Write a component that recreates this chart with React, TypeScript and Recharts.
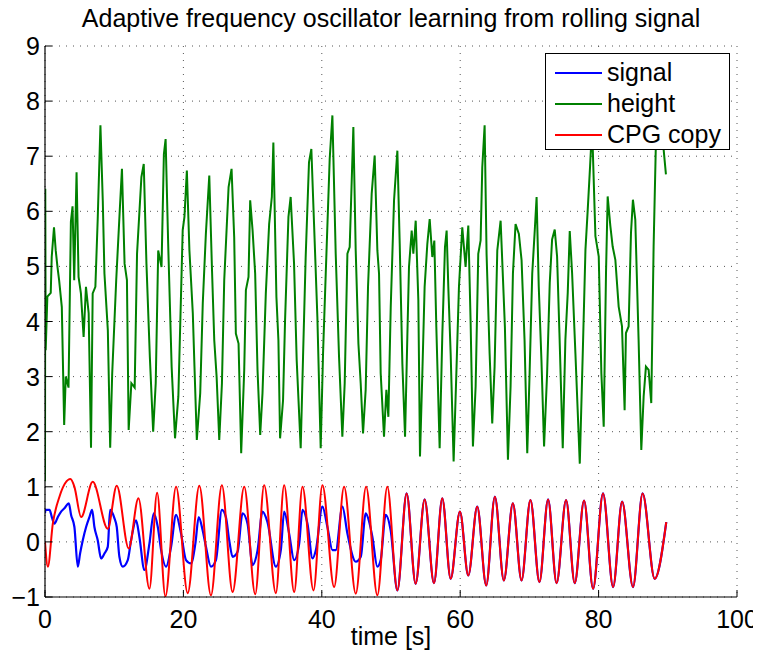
import React from "react"
import { LineChart, Line, XAxis, YAxis, CartesianGrid, Legend } from "recharts"

const FONT = '"Liberation Sans", Arial, Helvetica, sans-serif'
const BLUE = "#0000ff"
const GREEN = "#008000"
const RED = "#ff0000"

const xTicks = [0, 20, 40, 60, 80, 100]
const yTicks = [-1, 0, 1, 2, 3, 4, 5, 6, 7, 8, 9]
const legendOrder = ["signal", "height", "CPG copy"]

// [time s, value]
const signalPoints: [number, number][] = [
  [0, 0.52], [0.07, 0.58], [0.65, 0.58], [1.03, 0.43], [1.37, 0.33], [1.85, 0.45], [2.33, 0.55],
  [2.81, 0.61], [3.44, 0.7], [3.77, 0.49], [4.25, 0.27], [4.74, -0.45], [5.07, -0.21], [5.46, 0.03],
  [5.94, 0.27], [6.42, 0.45], [6.81, 0.58], [7.14, 0.27], [7.62, 0.03], [8.1, -0.3], [8.59, -0.21],
  [9.07, -0.09], [9.41, 0.58], [10.03, 0.43], [10.37, 0.27], [10.75, -0.27], [11.23, -0.45],
  [11.96, -0.33], [12.44, 0.03], [13.16, 0.39], [13.64, 0.09], [14.37, -0.51], [15.09, -0.03],
  [15.72, 0.52], [16.3, 0.27], [16.78, -0.15], [17.5, -0.45], [18.22, -0.09], [18.94, 0.49],
  [19.66, 0.15], [20.38, -0.33], [21.1, -0.39], [21.73, -0.03], [22.21, 0.45], [22.78, 0.21],
  [23.26, -0.09], [23.98, -0.45], [24.7, -0.33], [25.56, 0.58], [26.14, 0.45], [26.62, 0.03],
  [27.11, -0.27], [27.83, -0.18], [28.55, 0.52], [29.27, 0.33], [30.0, -0.42], [30.72, -0.15],
  [31.43, 0.55], [32.15, 0.36], [33.36, -0.45], [34.08, -0.15], [34.56, 0.55], [35.28, 0.15],
  [36.0, -0.33], [36.73, -0.03], [37.21, 0.58], [37.93, 0.33], [38.66, -0.3], [39.14, -0.15],
  [40.09, 0.64], [40.81, 0.27], [41.54, -0.15], [42.02, -0.15], [42.98, 0.64], [43.7, 0.15],
  [44.91, -0.36], [45.63, -0.27], [46.35, 0.52], [46.83, 0.37], [47.31, 0.09], [48.03, -0.45],
  [48.51, -0.33], [49.23, 0.49], [49.95, 0.21],
]

const heightPoints: [number, number][] = [
  [0, 1.1], [0.04, 6.41], [0.1, 3.48], [0.34, 4.45], [0.83, 4.52], [0.97, 5.17], [1.3, 5.71],
  [1.55, 5.29], [1.8, 4.99], [2.04, 4.75], [2.43, 4.26], [2.77, 2.12], [3.0, 3.0], [3.4, 2.8],
  [3.74, 5.81], [3.98, 6.09], [4.22, 4.75], [4.56, 6.71], [4.85, 4.81], [5.19, 4.51], [5.58, 3.72],
  [5.92, 4.63], [6.31, 4.15], [6.65, 1.71], [6.89, 4.51], [7.28, 4.63], [7.62, 5.87], [8.01, 7.56],
  [8.35, 6.19], [8.59, 4.87], [9.08, 3.84], [9.42, 1.71], [9.71, 3.05], [10.29, 4.75], [10.78, 5.96],
  [11.12, 6.77], [11.5, 5.05], [11.84, 4.75], [12.09, 2.03], [12.48, 2.88], [12.96, 2.8], [13.3, 5.23],
  [13.93, 6.62], [14.27, 6.86], [14.66, 5.05], [15.15, 3.36], [15.63, 2.0], [16.0, 2.88], [16.36, 5.29],
  [16.84, 4.99], [17.18, 7.04], [17.43, 7.31], [17.8, 5.41], [18.3, 3.18], [18.79, 1.88], [19.27, 2.64],
  [19.9, 5.66], [20.15, 5.9], [20.5, 6.74], [20.87, 5.29], [21.36, 4.15], [21.6, 3.18], [21.94, 1.85],
  [22.43, 2.7], [22.8, 4.33], [23.25, 5.6], [23.74, 6.65], [24.12, 4.99], [24.46, 3.66], [24.8, 3.0],
  [25.18, 1.85], [25.57, 2.88], [25.9, 4.75], [26.53, 6.44], [26.96, 6.77], [27.34, 5.53], [27.58, 3.78],
  [27.97, 3.6], [28.35, 1.61], [28.79, 3.12], [29.03, 4.57], [29.41, 4.81], [29.65, 6.2], [30.0, 5.65],
  [30.37, 4.87], [30.71, 3.12], [31.1, 1.94], [31.43, 2.7], [31.91, 4.51], [32.39, 5.77], [32.78, 6.26],
  [33.0, 7.25], [33.44, 4.45], [33.73, 3.66], [33.97, 1.88], [34.4, 2.57], [34.69, 4.02], [35.18, 5.9],
  [35.5, 6.26], [35.99, 5.05], [36.37, 3.3], [36.95, 1.7], [37.29, 3.36], [37.67, 5.17], [38.15, 6.89],
  [38.49, 7.13], [38.88, 5.77], [39.36, 4.08], [39.84, 1.7], [40.18, 3.42], [40.57, 4.87], [41.14, 6.95],
  [41.53, 7.74], [42.01, 5.23], [42.49, 3.36], [42.97, 1.91], [43.31, 2.88], [43.7, 5.23], [44.03, 5.35],
  [44.56, 7.53], [44.9, 5.29], [45.29, 3.6], [45.62, 2.88], [45.96, 1.97], [46.34, 2.76], [46.68, 4.63],
  [47.21, 6.32], [47.64, 7.01], [48.03, 5.29], [48.27, 4.87], [48.51, 3.06], [48.99, 1.91], [49.33, 2.76],
  [49.62, 2.27], [49.96, 4.26], [50.44, 6.2], [50.92, 7.1], [51.26, 5.41], [51.64, 3.24], [52.03, 1.91],
  [52.36, 3.72], [52.6, 4.99], [52.99, 5.65], [53.23, 5.23], [53.57, 5.83], [53.95, 4.39], [54.19, 1.55],
  [54.53, 3.06], [54.86, 4.63], [55.25, 5.41], [55.59, 5.86], [55.97, 5.17], [56.26, 5.47], [56.55, 3.9],
  [57.03, 1.7], [57.42, 3.78], [57.8, 5.35], [58.04, 5.65], [58.28, 4.63], [58.62, 3.42], [59.05, 1.46],
  [59.43, 3.0], [59.82, 4.63], [60.3, 5.71], [60.78, 4.99], [61.17, 5.74], [61.51, 3.96], [61.84, 1.73],
  [62.23, 2.82], [62.61, 5.23], [62.95, 5.47], [63.19, 6.8], [63.53, 7.56], [63.81, 5.23], [64.25, 3.42],
  [64.63, 2.15], [64.97, 3.18], [65.36, 5.29], [65.84, 5.83], [66.17, 4.81], [66.46, 3.9], [66.9, 1.49],
  [67.28, 2.82], [67.62, 4.87], [68.0, 5.77], [68.48, 5.59], [68.87, 5.11], [69.3, 3.66], [69.69, 1.61],
  [70.03, 3.06], [70.41, 4.87], [70.8, 5.71], [71.04, 6.26], [71.35, 4.64], [71.74, 3.3], [72.12, 1.73],
  [72.56, 3.06], [72.94, 4.7], [73.28, 5.49], [73.66, 5.67], [74.0, 5.18], [74.34, 3.79], [74.82, 1.7],
  [75.2, 3.67], [75.54, 4.52], [75.83, 5.64], [76.17, 4.88], [76.65, 3.42], [77.28, 1.42], [77.71, 3.42],
  [78.1, 5.3], [78.43, 6.03], [78.77, 6.82], [79.06, 7.54], [79.54, 5.55], [80.02, 5.18], [80.4, 3.06],
  [80.74, 2.09], [81.07, 4.88], [81.31, 6.27], [81.7, 5.73], [82.03, 5.36], [82.42, 5.12], [82.9, 4.27],
  [83.38, 3.91], [83.76, 2.39], [83.95, 3.79], [84.34, 3.91], [84.68, 5.61], [84.96, 6.21], [85.3, 5.85],
  [85.78, 3.67], [86.17, 1.67], [86.51, 2.64], [86.84, 3.18], [87.23, 3.12], [87.61, 2.52], [87.95, 5.36],
  [88.29, 7.3], [88.67, 8.3], [89.0, 8.4], [89.4, 7.12], [89.73, 6.67],
]

const cpgPoints: [number, number][] = [
  [0, 0.0], [0.41, -0.45], [1.13, 0.33], [2.09, 0.82], [3.68, 1.14], [4.25, 1.0], [5.22, 0.45],
  [6.9, 1.09], [9.07, 0.24], [10.37, 1.02], [12.1, -0.12], [13.5, 0.79], [15.09, -0.85], [16.2, 0.89],
  [17.4, -0.99], [18.94, 1.0], [20.62, -0.93], [22.3, 1.02], [23.98, -0.97], [25.56, 1.03],
  [27.11, -0.91], [28.79, 1.0], [30.38, -0.95], [31.67, 1.03], [33.36, -0.93], [34.56, 1.03],
  [36.01, -0.91], [37.21, 1.0], [38.8, -0.88], [40.09, 1.03], [41.78, -0.82], [43.22, 1.0],
  [44.91, -0.94], [46.4, 1.0], [48.03, -0.97], [49.47, 1.0], [50.92, -0.88], [52.26, 0.88],
  [53.56, -0.76], [54.86, 0.77], [56.21, -0.75], [57.41, 0.79], [58.62, -0.67], [59.96, 0.55],
  [61.17, -0.61], [62.46, 0.64], [63.76, -0.79], [65.01, 0.82], [66.31, -0.7], [67.61, 0.7],
  [68.86, -0.7], [70.15, 0.76], [71.45, -0.73], [72.7, 0.77], [73.93, -0.75], [75.3, 0.76],
  [76.55, -0.75], [77.9, 0.75], [79.2, -0.85], [80.64, 0.88], [82.1, -0.82], [83.4, 0.73],
  [84.97, -0.82], [86.36, 0.88], [88.1, -0.67], [89.78, 0.36],
]

// from ~50 s the signal lies under the CPG copy
const signalData = [...signalPoints, ...cpgPoints.filter(([t]) => t > 50.5)].map(([t, v]) => ({ t, v }))
const heightData = heightPoints.map(([t, v]) => ({ t, v }))
const cpgData = cpgPoints.map(([t, v]) => ({ t, v }))

const fmt = (v: number) => String(v).replace("-", "\u2212")

function BottomTick({ x, y, payload }: any) {
  return (
    <g>
      <line x1={x} x2={x} y1={y} y2={y - 7} stroke="#000" />
      <text x={x} y={y + 31} textAnchor="middle" fontSize={25} fontFamily={FONT} fill="#000">
        {fmt(payload.value)}
      </text>
    </g>
  )
}

function TopTick({ x, y }: any) {
  return <line x1={x} x2={x} y1={y} y2={y + 7} stroke="#000" />
}

function LeftTick({ x, y, payload }: any) {
  return (
    <g>
      <line x1={x} x2={x + 7} y1={y} y2={y} stroke="#000" />
      <text x={x - 5} y={y + 9} textAnchor="end" fontSize={25} fontFamily={FONT} fill="#000">
        {fmt(payload.value)}
      </text>
    </g>
  )
}

function RightTick({ x, y }: any) {
  return <line x1={x} x2={x - 7} y1={y} y2={y} stroke="#000" />
}

function LegendBox({ payload }: any) {
  const items = (payload || [])
    .filter((e: any) => e.type !== "none")
    .sort((a: any, b: any) => legendOrder.indexOf(a.value) - legendOrder.indexOf(b.value))
  return (
    <div
      style={{
        width: 185,
        height: 97,
        boxSizing: "border-box",
        border: "1.5px solid #000",
        background: "#fff",
        paddingTop: 3,
        fontFamily: FONT,
      }}
    >
      {items.map((e: any) => (
        <div key={e.value} style={{ display: "flex", alignItems: "center", height: 31 }}>
          <span style={{ width: 47, height: 2, background: e.color, marginLeft: 9, marginRight: 5 }} />
          <span style={{ fontSize: 25, lineHeight: "25px", color: "#000" }}>{e.value}</span>
        </div>
      ))}
    </div>
  )
}

export default function App() {
  const W = 761
  const H = 659
  return (
    <div style={{ position: "relative", margin: -8, width: W, height: H, background: "#fff", fontFamily: FONT }}>
      <LineChart width={W} height={H} margin={{ top: 46, right: 24, bottom: 0, left: 0 }}>
        <CartesianGrid stroke="#555" strokeDasharray="1 6" />
        <XAxis
          dataKey="t"
          type="number"
          domain={[0, 100]}
          ticks={xTicks}
          interval={0}
          allowDataOverflow
          height={62}
          tickSize={0}
          tickMargin={0}
          tickLine={false}
          axisLine={{ stroke: "#000", strokeWidth: 1.2 }}
          tick={(p: any) => <BottomTick {...p} />}
        />
        <XAxis
          xAxisId="top"
          orientation="top"
          dataKey="t"
          type="number"
          domain={[0, 100]}
          ticks={xTicks}
          interval={0}
          allowDataOverflow
          height={0}
          tickSize={0}
          tickMargin={0}
          tickLine={false}
          axisLine={{ stroke: "#000", strokeWidth: 1.2 }}
          tick={(p: any) => <TopTick {...p} />}
        />
        <YAxis
          type="number"
          domain={[-1, 9]}
          ticks={yTicks}
          interval={0}
          allowDataOverflow
          width={45}
          tickSize={0}
          tickMargin={0}
          tickLine={false}
          axisLine={{ stroke: "#000", strokeWidth: 1.2 }}
          tick={(p: any) => <LeftTick {...p} />}
        />
        <YAxis
          yAxisId="right"
          orientation="right"
          type="number"
          domain={[-1, 9]}
          ticks={yTicks}
          interval={0}
          allowDataOverflow
          width={0}
          tickSize={0}
          tickMargin={0}
          tickLine={false}
          axisLine={{ stroke: "#000", strokeWidth: 1.5 }}
          tick={(p: any) => <RightTick {...p} />}
        />
        <Line
          data={signalData}
          dataKey="v"
          name="signal"
          type="monotone"
          stroke={BLUE}
          strokeWidth={2.2}
          dot={false}
          isAnimationActive={false}
        />
        <Line
          data={heightData}
          dataKey="v"
          name="height"
          type="linear"
          stroke={GREEN}
          strokeWidth={2}
          dot={false}
          isAnimationActive={false}
        />
        <Line
          data={cpgData}
          dataKey="v"
          name="CPG copy"
          type="monotone"
          stroke={RED}
          strokeWidth={2}
          dot={false}
          isAnimationActive={false}
        />
        <Legend
          layout="vertical"
          align="center"
          verticalAlign="middle"
          wrapperStyle={{ left: 545, top: 53, width: 185, height: 97 }}
          content={(p: any) => <LegendBox {...p} />}
        />
      </LineChart>
      <div
        style={{
          position: "absolute",
          zIndex: 2,
          left: 21,
          width: 740,
          top: 6,
          textAlign: "center",
          fontSize: 25,
          lineHeight: 1,
          color: "#000",
          whiteSpace: "nowrap",
        }}
      >
        Adaptive frequency oscillator learning from rolling signal
      </div>
      <div
        style={{
          position: "absolute",
          zIndex: 2,
          left: 291,
          width: 200,
          top: 624,
          textAlign: "center",
          fontSize: 25,
          lineHeight: 1,
          color: "#000",
        }}
      >
        time [s]
      </div>
    </div>
  )
}
